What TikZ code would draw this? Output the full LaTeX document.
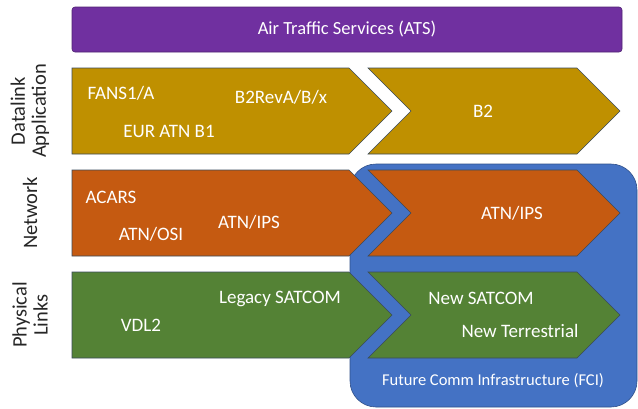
\documentclass[tikz,border=0pt]{standalone}
\usepackage{fontspec}
\setmainfont{Carlito}
\usetikzlibrary{positioning}
\definecolor{atspurple}{HTML}{7030A0}
\definecolor{appgold}{HTML}{BF9000}
\definecolor{netorange}{HTML}{C55A11}
\definecolor{phygreen}{HTML}{548235}
\definecolor{fciblue}{HTML}{4472C4}
\definecolor{rimgray}{HTML}{3A4A5A}

\begin{document}
\begin{tikzpicture}[x=1pt,y=-1pt]
\tikzstyle{band} = [draw=rimgray, line width=0.6pt, line join=miter]
\tikzstyle{intext} = [text=white, font=\fontsize{19}{21}\selectfont, inner sep=0pt]
\tikzstyle{rowlabel} = [rotate=90, align=center, text=black!85, font=\fontsize{20.5}{21}\selectfont, inner sep=0pt]

\useasboundingbox (0,0) rectangle (638,408);

% future comm infrastructure
\node [fill=fciblue, draw=fciblue!70!black, line width=0.6pt, rounded corners=26pt, minimum width=287pt, minimum height=243pt, inner sep=0pt] (fci) at (493.5,285.5) {};
\node [intext, font=\fontsize{16.5}{18}\selectfont] (fcitxt) at (493,381) {Future Comm Infrastructure (FCI)};

% ATS bar
\node [fill=atspurple, draw=atspurple!70!black, line width=0.6pt, rounded corners=3pt, minimum width=550pt, minimum height=45pt, inner sep=0pt] (ats) at (347,29.5) {};
\node [intext, font=\fontsize{18.5}{20}\selectfont] at (ats) {Air Traffic Services (ATS)};

% datalink application
\draw [band, fill=appgold] (72,68) -- (349,68) -- (392,111) -- (349,154) -- (72,154) -- cycle;
\draw [band, fill=appgold] (368,68) -- (577,68) -- (620,111) -- (577,154) -- (368,154) -- (411,111) -- cycle;
\node [intext] (fans) at (121,93) {FANS1/A};
\node [intext] (b2rev) at (281,97) {B2RevA/B/x};
\node [intext] (eur) at (169,131) {EUR ATN B1};
\node [intext] (b2) at (483,111) {B2};

% network
\draw [band, fill=netorange] (72,170) -- (349,170) -- (392,213) -- (349,256) -- (72,256) -- cycle;
\draw [band, fill=netorange] (368,170) -- (577,170) -- (620,213) -- (577,256) -- (368,256) -- (411,213) -- cycle;
\node [intext] (acars) at (111,197) {ACARS};
\node [intext] (osi) at (151,234) {ATN/OSI};
\node [intext] (ipsold) at (249,222) {ATN/IPS};
\node [intext] (ipsnew) at (512,213) {ATN/IPS};

% physical links
\draw [band, fill=phygreen] (72,272) -- (349,272) -- (392,315) -- (349,358) -- (72,358) -- cycle;
\draw [band, fill=phygreen] (368,272) -- (577,272) -- (620,315) -- (577,358) -- (368,358) -- (411,315) -- cycle;
\node [intext] (legacy) at (280,299) {Legacy SATCOM};
\node [intext] (vdl) at (141,325) {VDL2};
\node [intext] (newsat) at (481,298) {New SATCOM};
\node [intext] (newter) at (520,331) {New Terrestrial};

% row labels
\node [rowlabel] (lblapp) at (30,111) {Datalink\\Application};
\node [rowlabel] (lblnet) at (30,213) {Network};
\node [rowlabel] (lblphy) at (30,315) {Physical\\Links};
\end{tikzpicture}
\end{document}
